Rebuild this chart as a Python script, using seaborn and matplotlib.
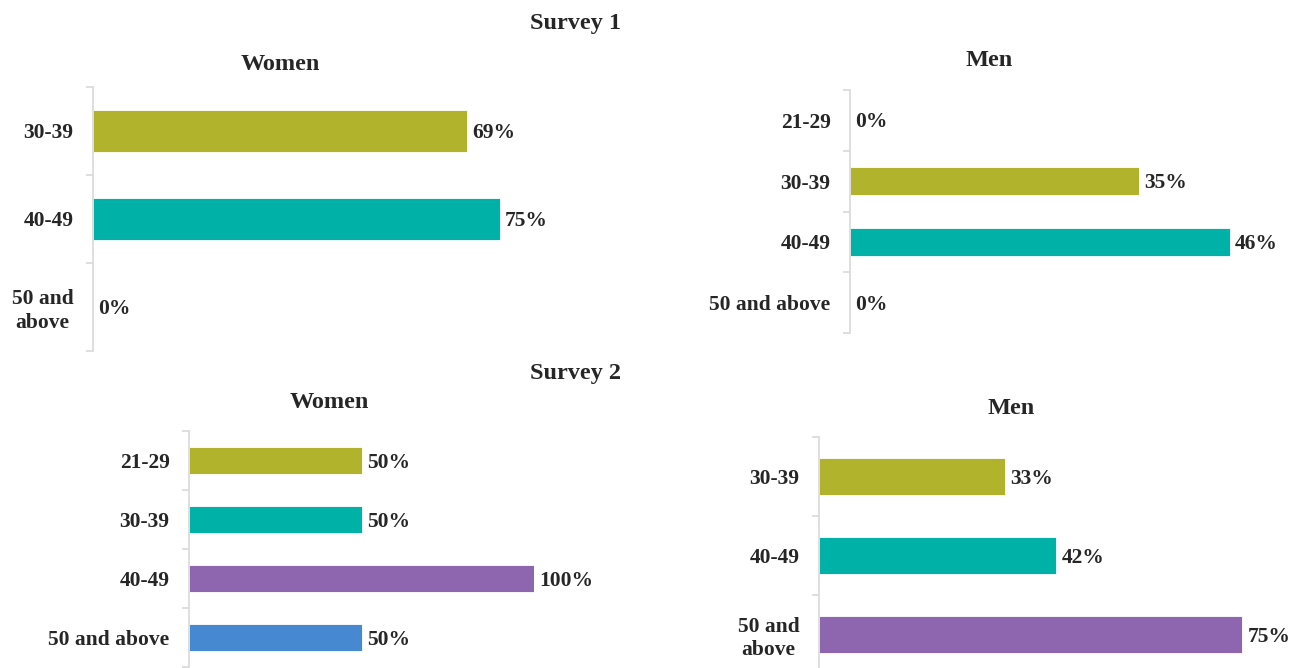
import matplotlib
matplotlib.use("Agg")
import matplotlib.pyplot as plt
import seaborn as sns
import numpy as np
import pandas as pd

# ---- data ----
s1_women_groups = ["30-39", "40-49", "50 and\nabove"]
s1_women_values = [69, 75, 0]
s1_men_groups = ["21-29", "30-39", "40-49", "50 and above"]
s1_men_values = [0, 35, 46, 0]
s2_women_groups = ["21-29", "30-39", "40-49", "50 and above"]
s2_women_values = [50, 50, 100, 50]
s2_men_groups = ["30-39", "40-49", "50 and\nabove"]
s2_men_values = [33, 42, 75]

OLIVE = "#B1B32C"
TEAL = "#00B1A8"
PURPLE = "#8E66AF"
BLUE = "#4689D1"

sns.set_theme(style="white")
plt.rcParams["font.family"] = ["Liberation Serif", "DejaVu Serif"]
plt.rcParams["font.weight"] = "bold"

W, H = 1293, 668
fig = plt.figure(figsize=(W / 100, H / 100), dpi=100)
fig.patch.set_facecolor("white")
TXT = "#262626"


def rect(left, top, width, height):
    return [left / W, (H - top - height) / H, width / W, height / H]


def panel(r, groups, values, colors, xmax):
    ax = fig.add_axes(r)
    n = len(groups)
    df = pd.DataFrame({"group": groups, "value": values})
    sns.barplot(data=df, y="group", x="value", hue="group", order=groups,
                hue_order=groups, palette=dict(zip(groups, colors)),
                width=0.47, dodge=False, legend=False, saturation=1, ax=ax,
                edgecolor="white", linewidth=0.6)
    ax.set_xlim(0, xmax)
    ax.set_ylim(n - 0.5, -0.5)
    ax.set_xlabel("")
    ax.set_ylabel("")
    ax.xaxis.set_visible(False)
    for s in ["top", "right", "bottom"]:
        ax.spines[s].set_visible(False)
    ax.spines["left"].set_color("#d9d9d9")
    ax.spines["left"].set_linewidth(1.2)
    ax.patch.set_alpha(0)
    ax.set_yticks(range(n))
    ax.set_yticklabels(groups)
    ax.set_yticks(np.arange(-0.5, n, 1.0), minor=True)
    ax.tick_params(axis="y", which="major", left=False, length=0, pad=14,
                   labelsize=15.5, labelcolor=TXT)
    ax.tick_params(axis="y", which="minor", left=True, length=5,
                   color="#d9d9d9", width=1.2, direction="out")
    for lbl in ax.get_yticklabels():
        lbl.set_multialignment("center")
        lbl.set_fontweight("bold")
    for i, v in enumerate(values):
        ax.annotate(f"{v}%", xy=(v, i), xytext=(4, -1.5),
                    textcoords="offset points", va="center", ha="left",
                    fontsize=15.5, fontweight="bold", color=TXT,
                    annotation_clip=False)
    return ax


panel(rect(93, 87, 542, 264), s1_women_groups, s1_women_values,
      [OLIVE, TEAL, PURPLE], 100)
panel(rect(850, 90, 412.5, 243), s1_men_groups, s1_men_values,
      [OLIVE, OLIVE, TEAL, PURPLE], 50)
panel(rect(189, 431, 345, 236), s2_women_groups, s2_women_values,
      [OLIVE, TEAL, PURPLE, BLUE], 100)
panel(rect(819, 437, 451, 237), s2_men_groups, s2_men_values,
      [OLIVE, TEAL, PURPLE], 80)


def ftext(x, y, s, size):
    fig.text(x / W, 1 - y / H, s, ha="center", va="center", fontsize=size,
             fontweight="bold", color=TXT)


ftext(576, 24, "Survey 1", 17.5)
ftext(280, 65, "Women", 17.5)
ftext(989, 60, "Men", 17.5)
ftext(576, 374, "Survey 2", 17.5)
ftext(329, 402, "Women", 17.5)
ftext(1011, 409, "Men", 17.5)

fig.savefig("out.png", dpi=100, facecolor="white")
